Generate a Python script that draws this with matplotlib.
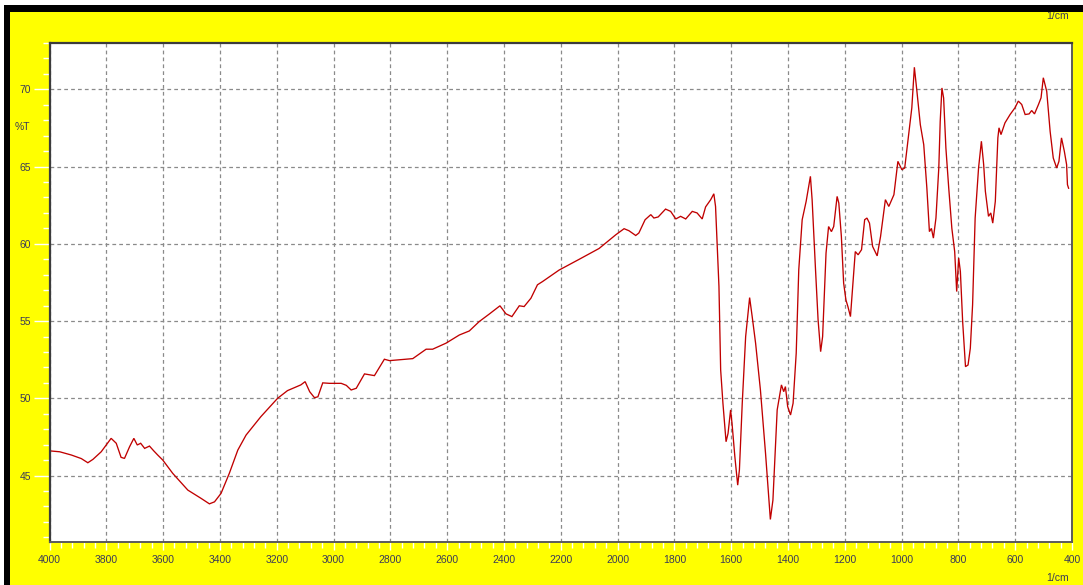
import matplotlib
matplotlib.use("Agg")
import matplotlib.pyplot as plt
from matplotlib.patches import Rectangle
from matplotlib.ticker import MultipleLocator

# IR transmittance spectrum: wavenumber (1/cm) and %T
wavenumber = [
    4000, 3964, 3923, 3888, 3865, 3847, 3818, 3783, 3765, 3748, 3736, 3718, 3703, 3691,
    3679, 3665, 3648, 3633, 3619, 3601, 3566, 3513, 3466, 3437, 3419, 3396, 3367, 3337,
    3308, 3256, 3197, 3162, 3115, 3100, 3084, 3067, 3055, 3038, 3014, 2973, 2955, 2938,
    2920, 2891, 2856, 2821, 2803, 2721, 2674, 2651, 2604, 2557, 2522, 2487, 2452, 2414,
    2393, 2372, 2346, 2329, 2305, 2282, 2264, 2241, 2206, 2135, 2065, 2006, 1977, 1960,
    1936, 1925, 1903, 1883, 1872, 1857, 1831, 1813, 1795, 1778, 1760, 1737, 1720, 1702,
    1690, 1672, 1661, 1655, 1643, 1637, 1629, 1618, 1611, 1602, 1597, 1587, 1577, 1571,
    1561, 1549, 1535, 1526, 1514, 1497, 1479, 1462, 1453, 1438, 1423, 1415, 1409, 1401,
    1391, 1382, 1371, 1362, 1350, 1336, 1321, 1315, 1303, 1294, 1285, 1278, 1266, 1257,
    1247, 1239, 1227, 1221, 1212, 1204, 1196, 1189, 1180, 1172, 1163, 1153, 1141, 1130,
    1122, 1113, 1102, 1086, 1074, 1057, 1045, 1027, 1013, 999, 989, 975, 964, 955,
    946, 934, 922, 911, 902, 895, 888, 879, 869, 864, 858, 852, 844, 834,
    823, 813, 806, 799, 793, 785, 775, 766, 758, 750, 741, 729, 719, 711,
    705, 694, 686, 679, 670, 661, 657, 650, 636, 618, 601, 589, 577, 565,
    551, 542, 532, 518, 509, 501, 489, 477, 466, 454, 446, 437, 427, 419,
    416, 412,
]
transmittance = [
    46.60, 46.54, 46.33, 46.10, 45.83, 46.05, 46.54, 47.41, 47.09, 46.18, 46.11, 46.87, 47.41, 46.98,
    47.09, 46.76, 46.91, 46.60, 46.33, 46.00, 45.14, 44.06, 43.52, 43.17, 43.30, 43.85, 45.14, 46.65,
    47.62, 48.81, 50.00, 50.50, 50.87, 51.08, 50.43, 50.04, 50.10, 51.00, 50.97, 50.97, 50.84, 50.54,
    50.65, 51.58, 51.47, 52.53, 52.44, 52.57, 53.18, 53.18, 53.57, 54.10, 54.36, 54.97, 55.45, 55.99,
    55.47, 55.29, 55.99, 55.94, 56.48, 57.35, 57.56, 57.85, 58.30, 59.00, 59.70, 60.59, 60.98, 60.85,
    60.54, 60.70, 61.56, 61.89, 61.67, 61.74, 62.25, 62.10, 61.61, 61.78, 61.61, 62.10, 62.00, 61.61,
    62.39, 62.86, 63.24, 62.42, 57.24, 51.84, 49.68, 47.19, 47.73, 49.25, 48.38, 46.22, 44.38, 45.36,
    49.68, 54.00, 56.52, 55.29, 53.57, 50.54, 46.44, 42.16, 43.41, 49.25, 50.87, 50.43, 50.76, 49.46,
    48.92, 49.68, 52.92, 58.32, 61.56, 62.75, 64.37, 62.86, 58.32, 55.08, 53.02, 54.00, 59.40, 61.12,
    60.79, 61.12, 63.07, 62.64, 60.48, 57.46, 56.37, 55.94, 55.29, 57.24, 59.50, 59.29, 59.62, 61.56,
    61.67, 61.34, 59.83, 59.22, 60.48, 62.86, 62.42, 63.18, 65.34, 64.80, 64.91, 67.07, 68.80, 71.43,
    69.87, 67.71, 66.42, 63.61, 60.79, 61.00, 60.37, 61.67, 64.91, 67.93, 70.09, 69.44, 66.20, 63.61,
    61.00, 59.49, 56.91, 59.08, 58.21, 54.97, 52.05, 52.16, 53.24, 56.05, 61.67, 64.91, 66.64, 65.13,
    63.40, 61.78, 62.00, 61.34, 62.75, 66.86, 67.51, 67.07, 67.83, 68.37, 68.80, 69.24, 69.02, 68.37,
    68.41, 68.63, 68.41, 69.02, 69.45, 70.75, 69.87, 67.28, 65.56, 64.91, 65.34, 66.86, 65.99, 65.13,
    63.83, 63.60,
]

x_ticks = [4000, 3800, 3600, 3400, 3200, 3000, 2800, 2600, 2400, 2200, 2000,
           1800, 1600, 1400, 1200, 1000, 800, 600, 400]
y_ticks = [45, 50, 55, 60, 65, 70]

W, H = 1083, 585
fig = plt.figure(figsize=(W / 100, H / 100), dpi=100, facecolor="white")


def px_rect(x0, y0, x1, y1, color, z):
    fig.patches.append(Rectangle((x0 / W, 1 - y1 / H), (x1 - x0) / W, (y1 - y0) / H,
                                 transform=fig.transFigure, facecolor=color,
                                 edgecolor="none", zorder=z))


# yellow panel with black frame on top and left
px_rect(10, 12, W, H, "#ffff00", 0)
px_rect(4, 5, W, 12, "#000000", 5)
px_rect(4, 5, 10, H, "#000000", 5)

ax = fig.add_axes([49.5 / W, 1 - 542 / H, (1072 - 49.5) / W, (542 - 43) / H])
ax.set_zorder(10)
ax.set_facecolor("white")
ax.plot(wavenumber, transmittance, color="#c00000", lw=0.95, solid_joinstyle="miter")

ax.set_xlim(4000, 400)
ax.set_ylim(40.7, 73.0)
ax.set_xticks(x_ticks)
ax.set_yticks(y_ticks)
ax.xaxis.set_minor_locator(MultipleLocator(40))
ax.yaxis.set_minor_locator(MultipleLocator(1))

label_color = "#3a3a58"
ax.set_xticklabels([str(v) for v in x_ticks], fontsize=7.5, color=label_color,
                   family="Liberation Sans")
ax.set_yticklabels([str(v) for v in y_ticks], fontsize=7.5, color=label_color,
                   family="Liberation Sans")
ax.tick_params(axis="y", which="major", length=11.5, width=1.0, color="white",
               direction="out", pad=2)
ax.tick_params(axis="y", which="minor", length=5, width=1.0, color="white",
               direction="out")
ax.tick_params(axis="x", which="major", length=5.5, width=1.0, color="white",
               direction="out", pad=4)
ax.tick_params(axis="x", which="minor", length=4.5, width=1.0, color="white",
               direction="out")

ax.grid(True, which="major", color="#8a8a8a", lw=0.9, linestyle=(0, (3, 2.5)))
ax.set_axisbelow(True)
for side in ("left", "top"):
    ax.spines[side].set_color("#3c3c3c")
    ax.spines[side].set_linewidth(1.6)
for side in ("right", "bottom"):
    ax.spines[side].set_color("#5a5a5a")
    ax.spines[side].set_linewidth(1.4)

fig.text(22 / W, 1 - 127 / H, "%T", fontsize=7.5, color=label_color,
         family="Liberation Sans", ha="center", va="center")
fig.text(1058 / W, 1 - 578 / H, "1/cm", fontsize=7.5, color=label_color,
         family="Liberation Sans", ha="center", va="center")
fig.text(1058 / W, 1 - 16 / H, "1/cm", fontsize=7.5, color=label_color,
         family="Liberation Sans", ha="center", va="center", zorder=1)

fig.savefig("out.png", dpi=100, facecolor="white")
